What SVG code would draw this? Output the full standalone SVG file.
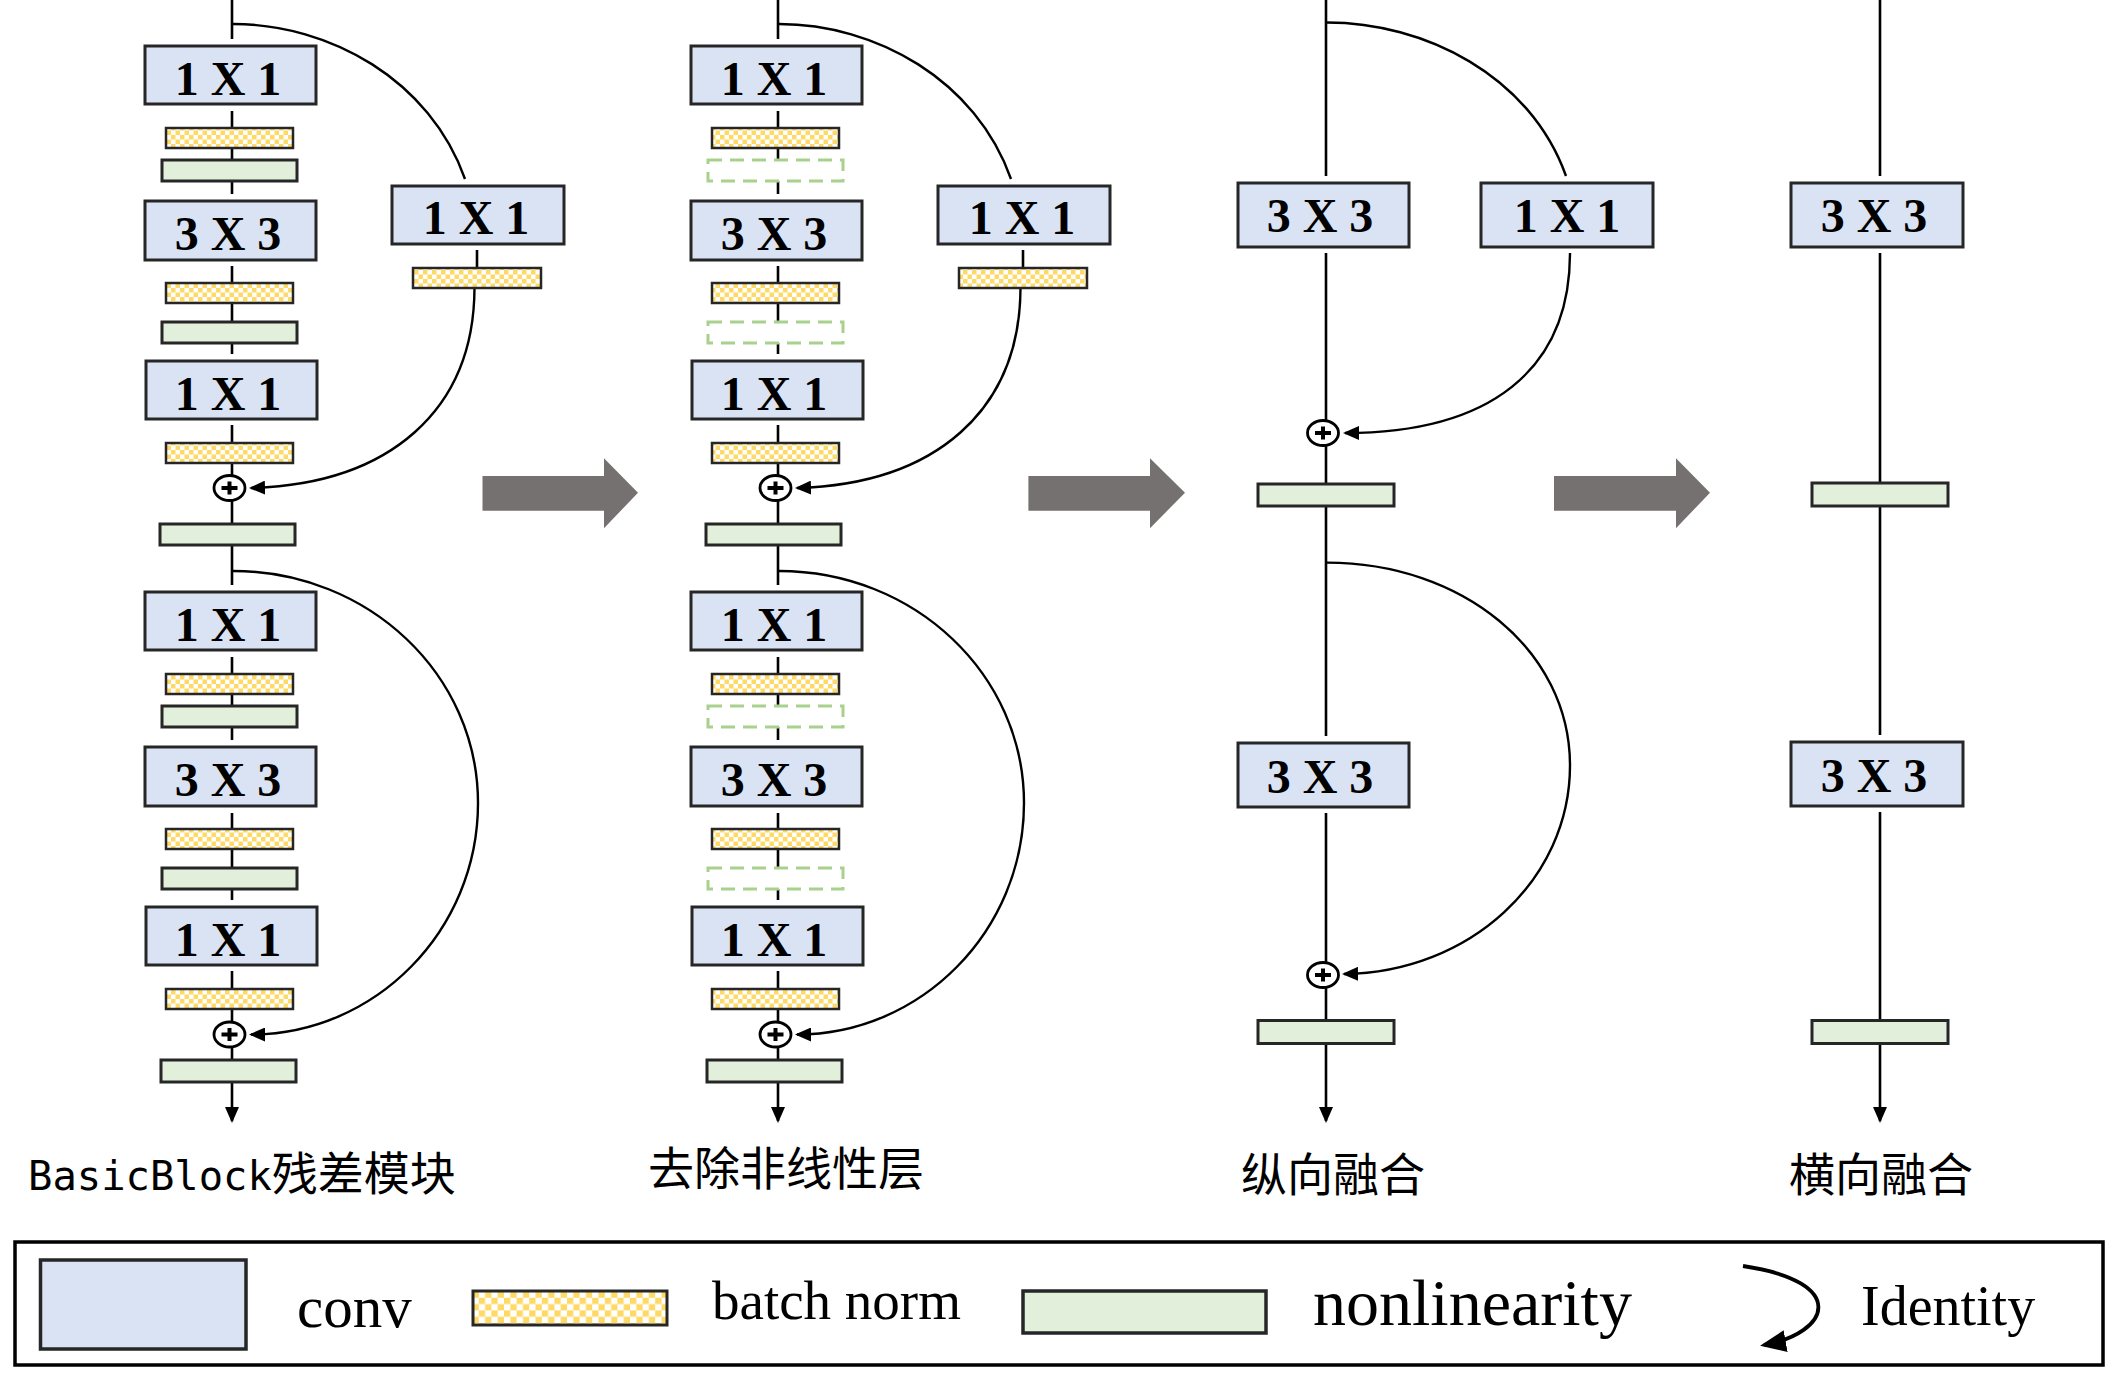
<svg xmlns="http://www.w3.org/2000/svg" xmlns:xlink="http://www.w3.org/1999/xlink" width="2119" height="1382" viewBox="0 0 2119 1382">
<defs>
<style>
.conv{fill:#DAE3F3;stroke:#262626;stroke-width:3}
.bn{fill:url(#chk);stroke:#262626;stroke-width:2.5}
.nl{fill:#E2EFDA;stroke:#262626;stroke-width:3}
.nld{fill:none;stroke:#A9D18E;stroke-width:3;stroke-dasharray:14 8}
.ln{stroke:#000;stroke-width:2.6;fill:none}
.cv{stroke:#000;stroke-width:2.4;fill:none}
.k{font-family:"Liberation Serif","Times New Roman",serif;font-weight:bold;font-size:48px;text-anchor:middle;fill:#000}
.lg{font-family:"Liberation Serif","Times New Roman",serif;fill:#000}
.cap{font-family:"Noto Sans CJK SC",sans-serif;font-size:46px;fill:#000}
.gray{fill:#767171}
</style>
<pattern id="chk" width="9" height="9" patternUnits="userSpaceOnUse"><rect width="9" height="9" fill="#fff"/><rect width="4.5" height="4.5" fill="#FFD966"/><rect x="4.5" y="4.5" width="4.5" height="4.5" fill="#FFD966"/></pattern>
<pattern id="chk2" width="12.6" height="12.6" patternUnits="userSpaceOnUse"><rect width="12.6" height="12.6" fill="#fff"/><rect width="6.3" height="6.3" fill="#FFD966"/><rect x="6.3" y="6.3" width="6.3" height="6.3" fill="#FFD966"/></pattern>
<marker id="ah" markerUnits="userSpaceOnUse" viewBox="0 0 16 14" markerWidth="16" markerHeight="14" refX="14" refY="7" orient="auto"><path d="M0,0 L16,7 L0,14 Z" fill="#000"/></marker>
<marker id="ahL" markerUnits="userSpaceOnUse" viewBox="0 0 26 22" markerWidth="26" markerHeight="22" refX="22" refY="11" orient="auto"><path d="M0,0 L26,11 L0,22 Z" fill="#000"/></marker>
<g id="plus"><ellipse cx="0" cy="0" rx="15.5" ry="12.5" fill="#fff" stroke="#000" stroke-width="2.8"/><rect x="-8" y="-2" width="16" height="4" fill="#000"/><rect x="-2" y="-6.5" width="4" height="13" fill="#000"/></g>
</defs>
<rect width="2119" height="1382" fill="#fff"/>

<g id="connectors">
<!-- column 1 -->
<path class="ln" d="M232,0V39 M232,111V128 M232,148V160 M232,181V194 M232,266V283 M232,303V322 M232,343V354 M232,425V443 M232,463V475.5 M232,500.5V524 M232,545V585"/>
<path class="ln" d="M477,250V268"/>
<path class="cv" d="M233,24 C330,24 430,80 465,179"/>
<path class="cv" d="M474.5,288 C474,410 390,484 251,488" marker-end="url(#ah)"/>
<path class="ln" d="M232,657V674 M232,694V706 M232,727V740 M232,813V829 M232,849V868 M232,889V900 M232,971V989 M232,1009V1022 M232,1047V1060"/>
<path class="ln" d="M232,1082V1121" marker-end="url(#ah)"/>
<path class="cv" d="M233,571 C369,571 478,675 478,803 C478,931 375,1034.5 251,1034.5" marker-end="url(#ah)"/>
<!-- column 2 -->
<path class="ln" d="M778,0V39 M778,111V128 M778,148V160 M778,181V194 M778,266V283 M778,303V322 M778,343V354 M778,425V443 M778,463V475.5 M778,500.5V524 M778,545V585"/>
<path class="ln" d="M1023,250V268"/>
<path class="cv" d="M779,24 C876,24 976,80 1011,179"/>
<path class="cv" d="M1020.5,288 C1020,410 936,484 797,488" marker-end="url(#ah)"/>
<path class="ln" d="M778,657V674 M778,694V706 M778,727V740 M778,813V829 M778,849V868 M778,889V900 M778,971V989 M778,1009V1022 M778,1047V1060"/>
<path class="ln" d="M778,1082V1121" marker-end="url(#ah)"/>
<path class="cv" d="M779,571 C915,571 1024,675 1024,803 C1024,931 921,1034.5 797,1034.5" marker-end="url(#ah)"/>
<!-- column 3 -->
<path class="ln" d="M1326,0V176 M1326,253V420.5 M1326,445.5V484 M1326,506V736 M1326,813V963 M1326,987V1020.5"/>
<path class="ln" d="M1326,1044V1121" marker-end="url(#ah)"/>
<path class="cv" d="M1327,22.5 C1424,22.5 1530,75 1566,176"/>
<path class="cv" d="M1570,253 C1570,370 1490,433 1345,433" marker-end="url(#ah)"/>
<path class="cv" d="M1327,562.6 C1462,562.6 1570,650 1570,765.5 C1570,880 1470,972.4 1344,974" marker-end="url(#ah)"/>
<!-- column 4 -->
<path class="ln" d="M1880,0V176 M1880,253V483 M1880,506V735 M1880,812V1020.5"/>
<path class="ln" d="M1880,1043.5V1121" marker-end="url(#ah)"/>
</g>

<!-- column 1 nodes -->
<g id="c1_b1_conv1"><rect class="conv" x="145" y="46" width="171" height="58"/><text class="k" x="228" y="95">1 X 1</text></g>
<g id="c1_b1_bn1"><rect class="bn" x="166" y="128" width="127" height="20"/></g>
<g id="c1_b1_nl1"><rect class="nl" x="162" y="160" width="135" height="21"/></g>
<g id="c1_b1_conv2"><rect class="conv" x="145" y="201" width="171" height="59"/><text class="k" x="228" y="250">3 X 3</text></g>
<g id="c1_b1_bn2"><rect class="bn" x="166" y="283" width="127" height="20"/></g>
<g id="c1_b1_nl2"><rect class="nl" x="162" y="322" width="135" height="21"/></g>
<g id="c1_b1_conv3"><rect class="conv" x="146" y="361" width="171" height="58"/><text class="k" x="228" y="410">1 X 1</text></g>
<g id="c1_b1_bn3"><rect class="bn" x="166" y="443" width="127" height="20"/></g>
<g id="c1_b1_sum"><use xlink:href="#plus" href="#plus" x="229.5" y="488"/></g>
<g id="c1_b1_nl4"><rect class="nl" x="160" y="524" width="135" height="21"/></g>
<g id="c1_b1_sconv"><rect class="conv" x="392" y="186" width="172" height="58"/><text class="k" x="476" y="234">1 X 1</text></g>
<g id="c1_b1_sbn"><rect class="bn" x="413" y="268" width="128" height="20"/></g>

<g id="c1_b2_conv1"><rect class="conv" x="145" y="592" width="171" height="58"/><text class="k" x="228" y="641">1 X 1</text></g>
<g id="c1_b2_bn1"><rect class="bn" x="166" y="674" width="127" height="20"/></g>
<g id="c1_b2_nl1"><rect class="nl" x="162" y="706" width="135" height="21"/></g>
<g id="c1_b2_conv2"><rect class="conv" x="145" y="747" width="171" height="59"/><text class="k" x="228" y="796">3 X 3</text></g>
<g id="c1_b2_bn2"><rect class="bn" x="166" y="829" width="127" height="20"/></g>
<g id="c1_b2_nl2"><rect class="nl" x="162" y="868" width="135" height="21"/></g>
<g id="c1_b2_conv3"><rect class="conv" x="146" y="907" width="171" height="58"/><text class="k" x="228" y="956">1 X 1</text></g>
<g id="c1_b2_bn3"><rect class="bn" x="166" y="989" width="127" height="20"/></g>
<g id="c1_b2_sum"><use xlink:href="#plus" href="#plus" x="229.5" y="1034.5"/></g>
<g id="c1_b2_nl4"><rect class="nl" x="161" y="1060" width="135" height="22"/></g>

<!-- column 2 nodes -->
<g id="c2_b1_conv1"><rect class="conv" x="691" y="46" width="171" height="58"/><text class="k" x="774" y="95">1 X 1</text></g>
<g id="c2_b1_bn1"><rect class="bn" x="712" y="128" width="127" height="20"/></g>
<g id="c2_b1_nl1"><rect class="nld" x="708" y="160" width="135" height="21"/></g>
<g id="c2_b1_conv2"><rect class="conv" x="691" y="201" width="171" height="59"/><text class="k" x="774" y="250">3 X 3</text></g>
<g id="c2_b1_bn2"><rect class="bn" x="712" y="283" width="127" height="20"/></g>
<g id="c2_b1_nl2"><rect class="nld" x="708" y="322" width="135" height="21"/></g>
<g id="c2_b1_conv3"><rect class="conv" x="692" y="361" width="171" height="58"/><text class="k" x="774" y="410">1 X 1</text></g>
<g id="c2_b1_bn3"><rect class="bn" x="712" y="443" width="127" height="20"/></g>
<g id="c2_b1_sum"><use xlink:href="#plus" href="#plus" x="775.5" y="488"/></g>
<g id="c2_b1_nl4"><rect class="nl" x="706" y="524" width="135" height="21"/></g>
<g id="c2_b1_sconv"><rect class="conv" x="938" y="186" width="172" height="58"/><text class="k" x="1022" y="234">1 X 1</text></g>
<g id="c2_b1_sbn"><rect class="bn" x="959" y="268" width="128" height="20"/></g>

<g id="c2_b2_conv1"><rect class="conv" x="691" y="592" width="171" height="58"/><text class="k" x="774" y="641">1 X 1</text></g>
<g id="c2_b2_bn1"><rect class="bn" x="712" y="674" width="127" height="20"/></g>
<g id="c2_b2_nl1"><rect class="nld" x="708" y="706" width="135" height="21"/></g>
<g id="c2_b2_conv2"><rect class="conv" x="691" y="747" width="171" height="59"/><text class="k" x="774" y="796">3 X 3</text></g>
<g id="c2_b2_bn2"><rect class="bn" x="712" y="829" width="127" height="20"/></g>
<g id="c2_b2_nl2"><rect class="nld" x="708" y="868" width="135" height="21"/></g>
<g id="c2_b2_conv3"><rect class="conv" x="692" y="907" width="171" height="58"/><text class="k" x="774" y="956">1 X 1</text></g>
<g id="c2_b2_bn3"><rect class="bn" x="712" y="989" width="127" height="20"/></g>
<g id="c2_b2_sum"><use xlink:href="#plus" href="#plus" x="775.5" y="1034.5"/></g>
<g id="c2_b2_nl4"><rect class="nl" x="707" y="1060" width="135" height="22"/></g>

<!-- column 3 nodes -->
<g id="c3_conv1"><rect class="conv" x="1238" y="183" width="171" height="64"/><text class="k" x="1320" y="232">3 X 3</text></g>
<g id="c3_sconv"><rect class="conv" x="1481" y="183" width="172" height="64"/><text class="k" x="1567" y="232">1 X 1</text></g>
<g id="c3_sum1"><use xlink:href="#plus" href="#plus" x="1323" y="433"/></g>
<g id="c3_nl1"><rect class="nl" x="1258" y="484" width="136" height="22"/></g>
<g id="c3_conv2"><rect class="conv" x="1238" y="743" width="171" height="64"/><text class="k" x="1320" y="793">3 X 3</text></g>
<g id="c3_sum2"><use xlink:href="#plus" href="#plus" x="1323" y="975"/></g>
<g id="c3_nl2"><rect class="nl" x="1258" y="1020.5" width="136" height="23"/></g>

<!-- column 4 nodes -->
<g id="c4_conv1"><rect class="conv" x="1791" y="183" width="172" height="64"/><text class="k" x="1874" y="232">3 X 3</text></g>
<g id="c4_nl1"><rect class="nl" x="1812" y="483" width="136" height="23"/></g>
<g id="c4_conv2"><rect class="conv" x="1791" y="742" width="172" height="64"/><text class="k" x="1874" y="792">3 X 3</text></g>
<g id="c4_nl2"><rect class="nl" x="1812" y="1020.5" width="136" height="23"/></g>

<!-- transition arrows -->
<g id="step_arrows">
<path class="gray" d="M482.5,476 H604 V458.3 L638,492.7 L604,528.3 V510.7 H482.5 Z"/>
<path class="gray" d="M1028.4,476 H1150 V458.3 L1185,492.7 L1150,528.3 V510.7 H1028.4 Z"/>
<path class="gray" d="M1554,476 H1676 V458.3 L1710,492.7 L1676,528.3 V510.7 H1554 Z"/>
</g>

<!-- captions -->
<g id="captions">
<text x="28" y="1190"><tspan font-family="DejaVu Sans Mono, monospace" font-size="40.5">BasicBlock</tspan><tspan class="cap">残差模块</tspan></text>
<text class="cap" x="786" y="1185" text-anchor="middle">去除非线性层</text>
<text class="cap" x="1333" y="1191" text-anchor="middle">纵向融合</text>
<text class="cap" x="1881" y="1191" text-anchor="middle">横向融合</text>
</g>

<!-- legend -->
<g id="legend">
<rect x="15" y="1242" width="2088" height="123" fill="none" stroke="#000" stroke-width="3.5"/>
<rect x="40.5" y="1260" width="205.5" height="89" fill="#DAE3F3" stroke="#262626" stroke-width="3.5"/>
<text class="lg" x="297" y="1327" font-size="59">conv</text>
<rect x="473" y="1291" width="194" height="34" fill="url(#chk2)" stroke="#262626" stroke-width="3"/>
<text class="lg" x="712" y="1319" font-size="55">batch norm</text>
<rect x="1023" y="1291" width="243" height="42" fill="#E2EFDA" stroke="#262626" stroke-width="3.5"/>
<text class="lg" x="1313" y="1325" font-size="66">nonlinearity</text>
<path d="M1743,1266 C1850,1282 1830,1333 1764,1345" fill="none" stroke="#000" stroke-width="3.8" marker-end="url(#ahL)"/>
<text class="lg" x="1861" y="1325" font-size="56">Identity</text>
</g>
</svg>
